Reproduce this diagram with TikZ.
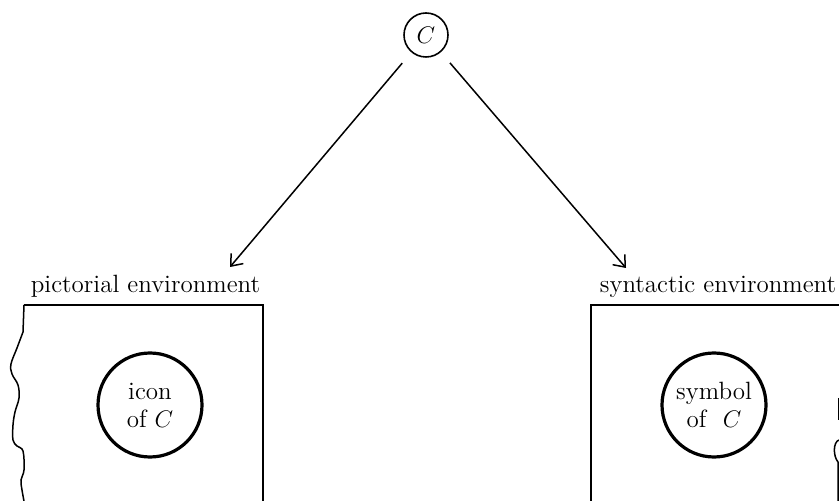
\documentclass[tikz,border=0pt]{standalone}
\usepackage{amsmath,amssymb}
\usepackage{tikz}
\usetikzlibrary{arrows.meta, positioning}
\newcommand{\drawb}{\draw[line width=0.75pt]}
\newcommand{\labf}[1]{\fontsize{12.5}{14}\selectfont{#1}}
\tikzset{
  envlabel/.style={anchor=base, inner sep=0pt, font=\fontsize{12.5}{14}\selectfont},
  sign/.style={circle, draw, line width=1.6pt, minimum size=52pt, inner sep=0pt, align=center, font=\fontsize{12.5}{14}\selectfont},
  concept/.style={circle, draw, line width=0.8pt, minimum size=22pt, inner sep=0pt, font=\fontsize{12.5}{14}\selectfont}
}

\begin{document}
\begin{tikzpicture}[x=0.5pt, y=-0.5pt, >={Straight Barb[length=5pt,width=8pt]}]
\useasboundingbox (0,0) rectangle (839,501);

% Khai niem C o tren
\node[concept] (C) at (426,35) {$C$};

% Hai dau mui ten
\coordinate (pictip) at (230,267);
\coordinate (syntip) at (626,268);
\drawb[->, shorten <=7pt] (C) -- (pictip);
\drawb[->, shorten <=7pt] (C) -- (syntip);

% Moi truong hinh anh (ben trai)
\node[envlabel] (pictlbl) at (145.5,293) {pictorial environment};
\drawb (24,305) -- (263,305) -- (263,501); % canh tren va canh phai
\drawb (24,305) -- (23,332)
  plot[smooth, tension=0.6] coordinates {(23,332) (17,348) (11,364) (12,374) (18,385) (19,398) (15,412) (13,425) (13,440) (17,446) (23,451) (24,470) (21,480) (22,490) (24,501)};
\node[sign] (icon) at (150,405) {icon\\of $C$};

% Moi truong cu phap (ben phai)
\node[envlabel] (synlbl) at (718,293) {syntactic environment};
\drawb (839,305) -- (591,305) -- (591,501); % canh tren va canh trai
\drawb (838.5,398) -- (838.5,420);
\drawb (839,440) .. controls (833,442) and (833,456) .. (838,462) -- (838,501);
\node[sign] (symbol) at (714,405) {symbol\\of\ \ $C$};
\end{tikzpicture}
\end{document}
